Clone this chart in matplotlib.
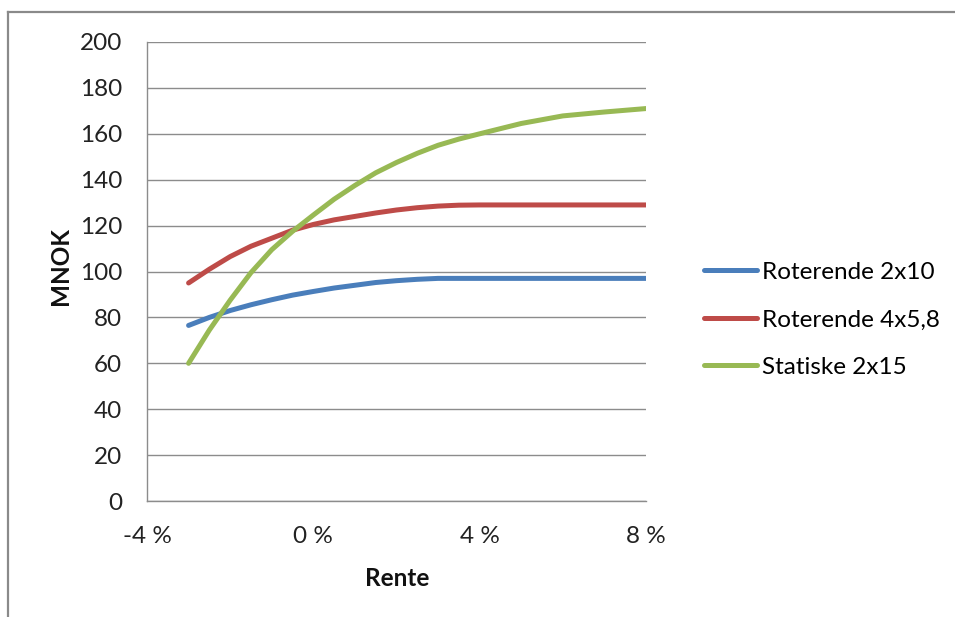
import matplotlib
matplotlib.use("Agg")
import matplotlib.pyplot as plt
from matplotlib.lines import Line2D
from matplotlib.ticker import FuncFormatter

rente = [-3, -2.5, -2, -1.5, -1, -0.5, 0, 0.5, 1, 1.5, 2, 2.5, 3, 3.5, 4, 5, 6, 7, 8]
roterende_2x10 = [76.5, 80, 83, 85.5, 87.7, 89.7, 91.3, 92.8, 94, 95.2, 96, 96.6, 97, 97, 97, 97, 97, 97, 97]
roterende_4x58 = [95, 101, 106.5, 111, 114.5, 118, 120.5, 122.5, 124, 125.5, 126.8, 127.8, 128.5, 128.9, 129, 129, 129, 129, 129]
statiske_2x15 = [60, 74.5, 87.5, 99.5, 109.5, 117.5, 124.6, 131.5, 137.5, 143, 147.5, 151.5, 155, 157.7, 160, 164.5, 167.8, 169.5, 171]
series_names = ["Roterende 2x10", "Roterende 4x5,8", "Statiske 2x15"]
x_ticks = [-4, 0, 4, 8]
y_ticks = list(range(0, 201, 20))

colors = ["#4A7EBB", "#BE4B48", "#98B954"]
plt.rcParams["font.family"] = ["Lato", "DejaVu Sans"]
FS = 17.5

fig = plt.figure(figsize=(9.55, 6.17), dpi=100)
ax = fig.add_axes([147 / 955, 1 - 501 / 617, 499 / 955, 459 / 617])

for ys, c, name in zip([roterende_2x10, roterende_4x58, statiske_2x15], colors, series_names):
    ax.plot(rente, ys, color=c, lw=3.6, label=name, solid_capstyle="round",
            solid_joinstyle="round", zorder=3)

ax.set_xlim(-4, 8)
ax.set_ylim(0, 200)
ax.set_xticks(x_ticks)
ax.set_yticks(y_ticks)
ax.xaxis.set_major_formatter(FuncFormatter(lambda v, p: f"{int(v)} %"))
ax.tick_params(axis="both", length=0, labelsize=FS, colors="#222222")
ax.tick_params(axis="y", pad=18)
ax.tick_params(axis="x", pad=18)
ax.grid(axis="y", color="#8c8c8c", lw=1.0, zorder=0)
for s in ["top", "right"]:
    ax.spines[s].set_visible(False)
for s in ["left", "bottom"]:
    ax.spines[s].set_color("#8c8c8c")
    ax.spines[s].set_linewidth(1.0)

fig.text(60 / 955, 1 - 266 / 617, "MNOK", fontsize=FS, fontweight="bold", rotation=90,
         ha="center", va="center", color="#111111")
fig.text(397 / 955, 1 - 579 / 617, "Rente", fontsize=FS, fontweight="bold",
         ha="center", va="center", color="#111111")

fig.legend(loc="upper left", bbox_to_anchor=(682 / 955, 1 - 240 / 617), frameon=False,
           fontsize=FS, handlelength=2.2, handletextpad=0.2, labelspacing=1.09)

# outer chart frame
fig.add_artist(Line2D([8 / 955, 1], [1 - 12 / 617, 1 - 12 / 617], color="#8a8a8a", lw=1.6))
fig.add_artist(Line2D([8 / 955, 8 / 955], [0, 1 - 12 / 617], color="#8a8a8a", lw=1.6))

fig.savefig("out.png", dpi=100)
